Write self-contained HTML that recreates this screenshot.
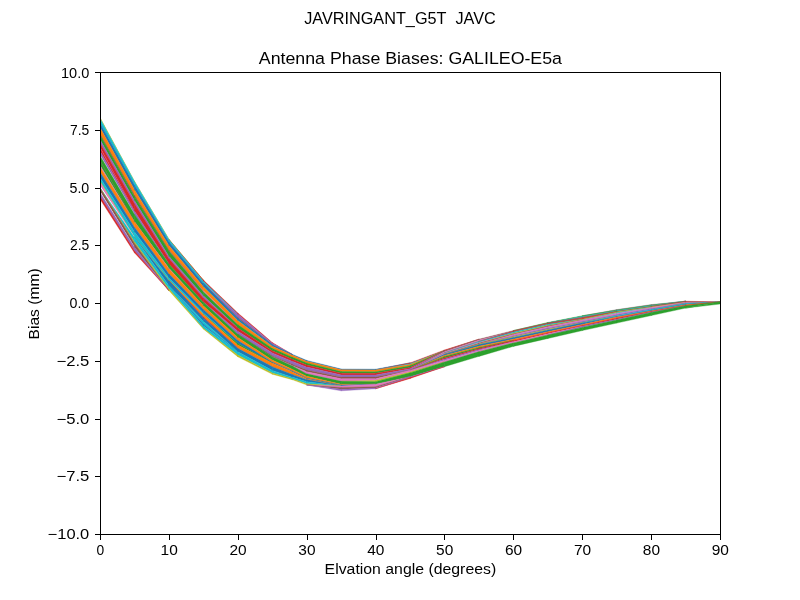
<!DOCTYPE html>
<html><head><meta charset="utf-8"><title>Antenna Phase Biases</title>
<style>html,body{margin:0;padding:0;background:#fff;}svg{display:block;will-change:transform;}text{font-family:"Liberation Sans",sans-serif;fill:#000;}</style></head><body>
<svg width="800" height="600" viewBox="0 0 800 600">
<rect x="0" y="0" width="800" height="600" fill="#ffffff"/>
<clipPath id="ax"><rect x="100" y="72" width="620" height="462"/></clipPath>
<g id="band" clip-path="url(#ax)">
<polygon points="100.00,117.50 134.74,181.81 134.74,182.05 100.00,118.40" fill="#bcbd22" stroke="#bcbd22" stroke-width="0.35"/>
<polygon points="100.00,118.40 134.74,182.05 134.74,185.54 100.00,122.90" fill="#17becf" stroke="#17becf" stroke-width="0.35"/>
<polygon points="100.00,122.90 134.74,185.54 134.74,190.29 100.00,127.60" fill="#1f77b4" stroke="#1f77b4" stroke-width="0.35"/>
<polygon points="100.00,127.60 134.74,190.29 134.74,195.53 100.00,133.90" fill="#ff7f0e" stroke="#ff7f0e" stroke-width="0.35"/>
<polygon points="100.00,133.90 134.74,195.53 134.74,197.03 100.00,135.10" fill="#8c564b" stroke="#8c564b" stroke-width="0.35"/>
<polygon points="100.00,135.10 134.74,197.03 134.74,201.03 100.00,139.60" fill="#2ca02c" stroke="#2ca02c" stroke-width="0.35"/>
<polygon points="100.00,139.60 134.74,201.03 134.74,204.03 100.00,142.90" fill="#9467bd" stroke="#9467bd" stroke-width="0.35"/>
<polygon points="100.00,142.90 134.74,204.03 134.74,211.55 100.00,147.50" fill="#d62728" stroke="#d62728" stroke-width="0.35"/>
<polygon points="100.00,147.50 134.74,211.55 134.74,211.55 100.00,147.90" fill="#e377c2" stroke="#e377c2" stroke-width="0.35"/>
<polygon points="100.00,147.90 134.74,211.55 134.74,211.52 100.00,151.00" fill="#d62728" stroke="#d62728" stroke-width="0.35"/>
<polygon points="100.00,151.00 134.74,211.52 134.74,214.77 100.00,155.10" fill="#9467bd" stroke="#9467bd" stroke-width="0.35"/>
<polygon points="100.00,155.10 134.74,214.77 134.74,214.76 100.00,155.50" fill="#ffffff" stroke="#ffffff" stroke-width="0.35"/>
<polygon points="100.00,155.50 134.74,214.76 134.74,222.28 100.00,160.50" fill="#2ca02c" stroke="#2ca02c" stroke-width="0.35"/>
<polygon points="100.00,160.50 134.74,222.28 134.74,222.28 100.00,160.90" fill="#8c564b" stroke="#8c564b" stroke-width="0.35"/>
<polygon points="100.00,160.90 134.74,222.28 134.74,222.24 100.00,165.30" fill="#2ca02c" stroke="#2ca02c" stroke-width="0.35"/>
<polygon points="100.00,165.30 134.74,222.24 134.74,222.23 100.00,167.10" fill="#e377c2" stroke="#e377c2" stroke-width="0.35"/>
<polygon points="100.00,167.10 134.74,222.23 134.74,227.73 100.00,171.90" fill="#ff7f0e" stroke="#ff7f0e" stroke-width="0.35"/>
<polygon points="100.00,171.90 134.74,227.73 134.74,232.17 100.00,177.40" fill="#1f77b4" stroke="#1f77b4" stroke-width="0.35"/>
<polygon points="100.00,177.40 134.74,232.17 134.74,237.59 100.00,180.90" fill="#17becf" stroke="#17becf" stroke-width="0.35"/>
<polygon points="100.00,180.90 134.74,237.59 134.74,237.78 100.00,182.00" fill="#bcbd22" stroke="#bcbd22" stroke-width="0.35"/>
<polygon points="100.00,182.00 134.74,237.78 134.74,237.75 100.00,185.80" fill="#e377c2" stroke="#e377c2" stroke-width="0.35"/>
<polygon points="100.00,185.80 134.74,237.75 134.74,237.73 100.00,187.80" fill="#ffffff" stroke="#ffffff" stroke-width="0.35"/>
<polygon points="100.00,187.80 134.74,237.73 134.74,242.27 100.00,187.80" fill="#17becf" stroke="#17becf" stroke-width="0.35"/>
<polygon points="100.00,187.80 134.74,242.27 134.74,243.78 100.00,187.80" fill="#bcbd22" stroke="#bcbd22" stroke-width="0.35"/>
<polygon points="100.00,187.80 134.74,243.78 134.74,247.68 100.00,191.60" fill="#8c564b" stroke="#8c564b" stroke-width="0.35"/>
<polygon points="100.00,191.60 134.74,247.68 134.74,247.68 100.00,192.40" fill="#ffffff" stroke="#ffffff" stroke-width="0.35"/>
<polygon points="100.00,192.40 134.74,247.68 134.74,251.28 100.00,196.10" fill="#9467bd" stroke="#9467bd" stroke-width="0.35"/>
<polygon points="100.00,196.10 134.74,251.28 134.74,253.17 100.00,199.10" fill="#d62728" stroke="#d62728" stroke-width="0.35"/>
<polygon points="134.44,181.25 169.19,239.50 169.19,240.01 134.44,181.50" fill="#bcbd22" stroke="#bcbd22" stroke-width="0.35"/>
<polygon points="134.44,181.50 169.19,240.01 169.19,242.19 134.44,185.00" fill="#17becf" stroke="#17becf" stroke-width="0.35"/>
<polygon points="134.44,185.00 169.19,242.19 169.19,245.99 134.44,189.75" fill="#1f77b4" stroke="#1f77b4" stroke-width="0.35"/>
<polygon points="134.44,189.75 169.19,245.99 169.19,250.48 134.44,195.00" fill="#ff7f0e" stroke="#ff7f0e" stroke-width="0.35"/>
<polygon points="134.44,195.00 169.19,250.48 169.19,251.37 134.44,196.50" fill="#8c564b" stroke="#8c564b" stroke-width="0.35"/>
<polygon points="134.44,196.50 169.19,251.37 169.19,256.79 134.44,200.50" fill="#2ca02c" stroke="#2ca02c" stroke-width="0.35"/>
<polygon points="134.44,200.50 169.19,256.79 169.19,258.93 134.44,203.50" fill="#9467bd" stroke="#9467bd" stroke-width="0.35"/>
<polygon points="134.44,203.50 169.19,258.93 169.19,264.36 134.44,211.00" fill="#d62728" stroke="#d62728" stroke-width="0.35"/>
<polygon points="134.44,211.00 169.19,264.36 169.19,264.33 134.44,214.25" fill="#9467bd" stroke="#9467bd" stroke-width="0.35"/>
<polygon points="134.44,214.25 169.19,264.33 169.19,268.60 134.44,221.75" fill="#2ca02c" stroke="#2ca02c" stroke-width="0.35"/>
<polygon points="134.44,221.75 169.19,268.60 169.19,269.36 134.44,221.75" fill="#e377c2" stroke="#e377c2" stroke-width="0.35"/>
<polygon points="134.44,221.75 169.19,269.36 169.19,274.21 134.44,227.25" fill="#ff7f0e" stroke="#ff7f0e" stroke-width="0.35"/>
<polygon points="134.44,227.25 169.19,274.21 169.19,278.20 134.44,231.70" fill="#1f77b4" stroke="#1f77b4" stroke-width="0.35"/>
<polygon points="134.44,231.70 169.19,278.20 169.19,280.37 134.44,237.10" fill="#17becf" stroke="#17becf" stroke-width="0.35"/>
<polygon points="134.44,237.10 169.19,280.37 169.19,280.98 134.44,237.30" fill="#bcbd22" stroke="#bcbd22" stroke-width="0.35"/>
<polygon points="134.44,237.30 169.19,280.98 169.19,286.02 134.44,237.30" fill="#1f77b4" stroke="#1f77b4" stroke-width="0.35"/>
<polygon points="134.44,237.30 169.19,286.02 169.19,289.21 134.44,241.80" fill="#17becf" stroke="#17becf" stroke-width="0.35"/>
<polygon points="134.44,241.80 169.19,289.21 169.19,290.91 134.44,243.30" fill="#bcbd22" stroke="#bcbd22" stroke-width="0.35"/>
<polygon points="134.44,243.30 169.19,290.91 169.19,290.88 134.44,247.20" fill="#8c564b" stroke="#8c564b" stroke-width="0.35"/>
<polygon points="134.44,247.20 169.19,290.88 169.19,290.85 134.44,250.80" fill="#9467bd" stroke="#9467bd" stroke-width="0.35"/>
<polygon points="134.44,250.80 169.19,290.85 169.19,290.83 134.44,252.70" fill="#d62728" stroke="#d62728" stroke-width="0.35"/>
<polygon points="168.89,239.00 203.63,280.36 203.63,280.35 168.89,239.50" fill="#bcbd22" stroke="#bcbd22" stroke-width="0.35"/>
<polygon points="168.89,239.50 203.63,280.35 203.63,281.61 168.89,239.50" fill="#d62728" stroke="#d62728" stroke-width="0.35"/>
<polygon points="168.89,239.50 203.63,281.61 203.63,283.66 168.89,241.70" fill="#17becf" stroke="#17becf" stroke-width="0.35"/>
<polygon points="168.89,241.70 203.63,283.66 203.63,287.06 168.89,245.50" fill="#1f77b4" stroke="#1f77b4" stroke-width="0.35"/>
<polygon points="168.89,245.50 203.63,287.06 203.63,291.16 168.89,250.00" fill="#ff7f0e" stroke="#ff7f0e" stroke-width="0.35"/>
<polygon points="168.89,250.00 203.63,291.16 203.63,291.15 168.89,250.90" fill="#8c564b" stroke="#8c564b" stroke-width="0.35"/>
<polygon points="168.89,250.90 203.63,291.15 203.63,292.06 168.89,250.90" fill="#e377c2" stroke="#e377c2" stroke-width="0.35"/>
<polygon points="168.89,250.90 203.63,292.06 203.63,296.14 168.89,256.30" fill="#2ca02c" stroke="#2ca02c" stroke-width="0.35"/>
<polygon points="168.89,256.30 203.63,296.14 203.63,298.24 168.89,258.45" fill="#9467bd" stroke="#9467bd" stroke-width="0.35"/>
<polygon points="168.89,258.45 203.63,298.24 203.63,302.43 168.89,263.90" fill="#d62728" stroke="#d62728" stroke-width="0.35"/>
<polygon points="168.89,263.90 203.63,302.43 203.63,306.13 168.89,268.20" fill="#2ca02c" stroke="#2ca02c" stroke-width="0.35"/>
<polygon points="168.89,268.20 203.63,306.13 203.63,306.12 168.89,268.95" fill="#e377c2" stroke="#e377c2" stroke-width="0.35"/>
<polygon points="168.89,268.95 203.63,306.12 203.63,309.71 168.89,273.80" fill="#ff7f0e" stroke="#ff7f0e" stroke-width="0.35"/>
<polygon points="168.89,273.80 203.63,309.71 203.63,313.21 168.89,277.80" fill="#1f77b4" stroke="#1f77b4" stroke-width="0.35"/>
<polygon points="168.89,277.80 203.63,313.21 203.63,314.50 168.89,280.00" fill="#17becf" stroke="#17becf" stroke-width="0.35"/>
<polygon points="168.89,280.00 203.63,314.50 203.63,314.49 168.89,280.60" fill="#bcbd22" stroke="#bcbd22" stroke-width="0.35"/>
<polygon points="168.89,280.60 203.63,314.49 203.63,317.32 168.89,280.60" fill="#ff7f0e" stroke="#ff7f0e" stroke-width="0.35"/>
<polygon points="168.89,280.60 203.63,317.32 203.63,318.22 168.89,280.60" fill="#d62728" stroke="#d62728" stroke-width="0.35"/>
<polygon points="168.89,280.60 203.63,318.22 203.63,321.56 168.89,285.60" fill="#1f77b4" stroke="#1f77b4" stroke-width="0.35"/>
<polygon points="168.89,285.60 203.63,321.56 203.63,324.54 168.89,285.60" fill="#17becf" stroke="#17becf" stroke-width="0.35"/>
<polygon points="168.89,285.60 203.63,324.54 203.63,326.15 168.89,285.60" fill="#1f77b4" stroke="#1f77b4" stroke-width="0.35"/>
<polygon points="168.89,285.60 203.63,326.15 203.63,328.64 168.89,288.80" fill="#17becf" stroke="#17becf" stroke-width="0.35"/>
<polygon points="168.89,288.80 203.63,328.64 203.63,329.34 168.89,290.50" fill="#bcbd22" stroke="#bcbd22" stroke-width="0.35"/>
<polygon points="203.33,280.00 238.08,313.19 238.08,314.49 203.33,281.25" fill="#d62728" stroke="#d62728" stroke-width="0.35"/>
<polygon points="203.33,281.25 238.08,314.49 238.08,314.47 203.33,283.30" fill="#17becf" stroke="#17becf" stroke-width="0.35"/>
<polygon points="203.33,283.30 238.08,314.47 238.08,317.80 203.33,283.30" fill="#9467bd" stroke="#9467bd" stroke-width="0.35"/>
<polygon points="203.33,283.30 238.08,317.80 238.08,318.60 203.33,283.30" fill="#8c564b" stroke="#8c564b" stroke-width="0.35"/>
<polygon points="203.33,283.30 238.08,318.60 238.08,320.69 203.33,286.70" fill="#1f77b4" stroke="#1f77b4" stroke-width="0.35"/>
<polygon points="203.33,286.70 238.08,320.69 238.08,321.10 203.33,286.70" fill="#17becf" stroke="#17becf" stroke-width="0.35"/>
<polygon points="203.33,286.70 238.08,321.10 238.08,324.89 203.33,290.80" fill="#ff7f0e" stroke="#ff7f0e" stroke-width="0.35"/>
<polygon points="203.33,290.80 238.08,324.89 238.08,324.89 203.33,291.70" fill="#e377c2" stroke="#e377c2" stroke-width="0.35"/>
<polygon points="203.33,291.70 238.08,324.89 238.08,328.18 203.33,295.80" fill="#2ca02c" stroke="#2ca02c" stroke-width="0.35"/>
<polygon points="203.33,295.80 238.08,328.18 238.08,328.16 203.33,297.90" fill="#9467bd" stroke="#9467bd" stroke-width="0.35"/>
<polygon points="203.33,297.90 238.08,328.16 238.08,331.50 203.33,302.10" fill="#d62728" stroke="#d62728" stroke-width="0.35"/>
<polygon points="203.33,302.10 238.08,331.50 238.08,334.48 203.33,302.10" fill="#9467bd" stroke="#9467bd" stroke-width="0.35"/>
<polygon points="203.33,302.10 238.08,334.48 238.08,337.78 203.33,305.80" fill="#2ca02c" stroke="#2ca02c" stroke-width="0.35"/>
<polygon points="203.33,305.80 238.08,337.78 238.08,340.67 203.33,309.40" fill="#ff7f0e" stroke="#ff7f0e" stroke-width="0.35"/>
<polygon points="203.33,309.40 238.08,340.67 238.08,343.56 203.33,312.90" fill="#1f77b4" stroke="#1f77b4" stroke-width="0.35"/>
<polygon points="203.33,312.90 238.08,343.56 238.08,343.55 203.33,314.20" fill="#17becf" stroke="#17becf" stroke-width="0.35"/>
<polygon points="203.33,314.20 238.08,343.55 238.08,345.27 203.33,314.20" fill="#2ca02c" stroke="#2ca02c" stroke-width="0.35"/>
<polygon points="203.33,314.20 238.08,345.27 238.08,348.57 203.33,317.00" fill="#ff7f0e" stroke="#ff7f0e" stroke-width="0.35"/>
<polygon points="203.33,317.00 238.08,348.57 238.08,348.56 203.33,317.90" fill="#d62728" stroke="#d62728" stroke-width="0.35"/>
<polygon points="203.33,317.90 238.08,348.56 238.08,351.97 203.33,321.25" fill="#1f77b4" stroke="#1f77b4" stroke-width="0.35"/>
<polygon points="203.33,321.25 238.08,351.97 238.08,351.94 203.33,324.20" fill="#17becf" stroke="#17becf" stroke-width="0.35"/>
<polygon points="203.33,324.20 238.08,351.94 238.08,351.93 203.33,325.80" fill="#1f77b4" stroke="#1f77b4" stroke-width="0.35"/>
<polygon points="203.33,325.80 238.08,351.93 238.08,355.23 203.33,328.30" fill="#17becf" stroke="#17becf" stroke-width="0.35"/>
<polygon points="203.33,328.30 238.08,355.23 238.08,356.99 203.33,329.00" fill="#bcbd22" stroke="#bcbd22" stroke-width="0.35"/>
<polygon points="237.78,312.90 272.52,342.76 272.52,343.55 237.78,314.20" fill="#d62728" stroke="#d62728" stroke-width="0.35"/>
<polygon points="237.78,314.20 272.52,343.55 272.52,344.84 237.78,317.50" fill="#9467bd" stroke="#9467bd" stroke-width="0.35"/>
<polygon points="237.78,317.50 272.52,344.84 272.52,344.83 237.78,318.30" fill="#8c564b" stroke="#8c564b" stroke-width="0.35"/>
<polygon points="237.78,318.30 272.52,344.83 272.52,346.48 237.78,320.40" fill="#1f77b4" stroke="#1f77b4" stroke-width="0.35"/>
<polygon points="237.78,320.40 272.52,346.48 272.52,346.47 237.78,320.80" fill="#17becf" stroke="#17becf" stroke-width="0.35"/>
<polygon points="237.78,320.80 272.52,346.47 272.52,348.51 237.78,324.60" fill="#ff7f0e" stroke="#ff7f0e" stroke-width="0.35"/>
<polygon points="237.78,324.60 272.52,348.51 272.52,351.00 237.78,327.90" fill="#2ca02c" stroke="#2ca02c" stroke-width="0.35"/>
<polygon points="237.78,327.90 272.52,351.00 272.52,353.09 237.78,331.25" fill="#d62728" stroke="#d62728" stroke-width="0.35"/>
<polygon points="237.78,331.25 272.52,353.09 272.52,355.99 237.78,334.20" fill="#9467bd" stroke="#9467bd" stroke-width="0.35"/>
<polygon points="237.78,334.20 272.52,355.99 272.52,356.90 237.78,334.20" fill="#8c564b" stroke="#8c564b" stroke-width="0.35"/>
<polygon points="237.78,334.20 272.52,356.90 272.52,360.20 237.78,337.50" fill="#2ca02c" stroke="#2ca02c" stroke-width="0.35"/>
<polygon points="237.78,337.50 272.52,360.20 272.52,362.19 237.78,340.40" fill="#ff7f0e" stroke="#ff7f0e" stroke-width="0.35"/>
<polygon points="237.78,340.40 272.52,362.19 272.52,363.17 237.78,343.30" fill="#1f77b4" stroke="#1f77b4" stroke-width="0.35"/>
<polygon points="237.78,343.30 272.52,363.17 272.52,363.16 237.78,345.00" fill="#2ca02c" stroke="#2ca02c" stroke-width="0.35"/>
<polygon points="237.78,345.00 272.52,363.16 272.52,366.86 237.78,348.30" fill="#ff7f0e" stroke="#ff7f0e" stroke-width="0.35"/>
<polygon points="237.78,348.30 272.52,366.86 272.52,370.56 237.78,351.70" fill="#1f77b4" stroke="#1f77b4" stroke-width="0.35"/>
<polygon points="237.78,351.70 272.52,370.56 272.52,373.06 237.78,355.00" fill="#17becf" stroke="#17becf" stroke-width="0.35"/>
<polygon points="237.78,355.00 272.52,373.06 272.52,374.35 237.78,356.75" fill="#bcbd22" stroke="#bcbd22" stroke-width="0.35"/>
<polygon points="272.22,342.50 292.29,354.38 292.29,354.37 272.22,343.30" fill="#d62728" stroke="#d62728" stroke-width="0.35"/>
<polygon points="272.22,343.30 292.29,354.37 292.29,354.35 272.22,344.60" fill="#9467bd" stroke="#9467bd" stroke-width="0.35"/>
<polygon points="272.22,344.60 292.29,354.35 292.29,355.13 272.22,346.25" fill="#1f77b4" stroke="#1f77b4" stroke-width="0.35"/>
<polygon points="272.22,346.25 292.29,355.13 292.29,357.23 272.22,348.30" fill="#ff7f0e" stroke="#ff7f0e" stroke-width="0.35"/>
<polygon points="272.22,348.30 292.29,357.23 292.29,359.33 272.22,350.80" fill="#2ca02c" stroke="#2ca02c" stroke-width="0.35"/>
<polygon points="272.22,350.80 292.29,359.33 292.29,361.38 272.22,352.90" fill="#d62728" stroke="#d62728" stroke-width="0.35"/>
<polygon points="272.22,352.90 292.29,361.38 292.29,364.33 272.22,355.80" fill="#9467bd" stroke="#9467bd" stroke-width="0.35"/>
<polygon points="272.22,355.80 292.29,364.33 292.29,365.53 272.22,356.70" fill="#8c564b" stroke="#8c564b" stroke-width="0.35"/>
<polygon points="272.22,356.70 292.29,365.53 292.29,365.94 272.22,356.70" fill="#e377c2" stroke="#e377c2" stroke-width="0.35"/>
<polygon points="272.22,356.70 292.29,365.94 292.29,369.34 272.22,360.00" fill="#2ca02c" stroke="#2ca02c" stroke-width="0.35"/>
<polygon points="272.22,360.00 292.29,369.34 292.29,370.93 272.22,362.00" fill="#ff7f0e" stroke="#ff7f0e" stroke-width="0.35"/>
<polygon points="272.22,362.00 292.29,370.93 292.29,371.83 272.22,363.00" fill="#1f77b4" stroke="#1f77b4" stroke-width="0.35"/>
<polygon points="272.22,363.00 292.29,371.83 292.29,374.52 272.22,366.70" fill="#ff7f0e" stroke="#ff7f0e" stroke-width="0.35"/>
<polygon points="272.22,366.70 292.29,374.52 292.29,377.20 272.22,370.40" fill="#1f77b4" stroke="#1f77b4" stroke-width="0.35"/>
<polygon points="272.22,370.40 292.29,377.20 292.29,378.84 272.22,372.90" fill="#17becf" stroke="#17becf" stroke-width="0.35"/>
<polygon points="272.22,372.90 292.29,378.84 292.29,379.68 272.22,374.20" fill="#bcbd22" stroke="#bcbd22" stroke-width="0.35"/>
<polygon points="291.99,354.20 306.97,360.53 306.97,361.38 291.99,355.00" fill="#1f77b4" stroke="#1f77b4" stroke-width="0.35"/>
<polygon points="291.99,355.00 306.97,361.38 306.97,363.02 291.99,357.10" fill="#ff7f0e" stroke="#ff7f0e" stroke-width="0.35"/>
<polygon points="291.99,357.10 306.97,363.02 306.97,365.12 291.99,359.20" fill="#2ca02c" stroke="#2ca02c" stroke-width="0.35"/>
<polygon points="291.99,359.20 306.97,365.12 306.97,367.22 291.99,361.25" fill="#d62728" stroke="#d62728" stroke-width="0.35"/>
<polygon points="291.99,361.25 306.97,367.22 306.97,370.12 291.99,364.20" fill="#9467bd" stroke="#9467bd" stroke-width="0.35"/>
<polygon points="291.99,364.20 306.97,370.12 306.97,371.83 291.99,365.40" fill="#8c564b" stroke="#8c564b" stroke-width="0.35"/>
<polygon points="291.99,365.40 306.97,371.83 306.97,373.91 291.99,365.80" fill="#e377c2" stroke="#e377c2" stroke-width="0.35"/>
<polygon points="291.99,365.80 306.97,373.91 306.97,376.39 291.99,369.20" fill="#2ca02c" stroke="#2ca02c" stroke-width="0.35"/>
<polygon points="291.99,369.20 306.97,376.39 306.97,378.15 291.99,370.80" fill="#ff7f0e" stroke="#ff7f0e" stroke-width="0.35"/>
<polygon points="291.99,370.80 306.97,378.15 306.97,378.95 291.99,371.70" fill="#1f77b4" stroke="#1f77b4" stroke-width="0.35"/>
<polygon points="291.99,371.70 306.97,378.95 306.97,379.71 291.99,374.40" fill="#ff7f0e" stroke="#ff7f0e" stroke-width="0.35"/>
<polygon points="291.99,374.40 306.97,379.71 306.97,381.79 291.99,377.10" fill="#1f77b4" stroke="#1f77b4" stroke-width="0.35"/>
<polygon points="291.99,377.10 306.97,381.79 306.97,383.85 291.99,378.75" fill="#17becf" stroke="#17becf" stroke-width="0.35"/>
<polygon points="291.99,378.75 306.97,383.85 306.97,385.11 291.99,379.60" fill="#bcbd22" stroke="#bcbd22" stroke-width="0.35"/>
<polygon points="306.67,360.40 341.41,369.07 341.41,369.87 306.67,361.25" fill="#1f77b4" stroke="#1f77b4" stroke-width="0.35"/>
<polygon points="306.67,361.25 341.41,369.87 341.41,371.57 306.67,362.90" fill="#ff7f0e" stroke="#ff7f0e" stroke-width="0.35"/>
<polygon points="306.67,362.90 341.41,371.57 341.41,373.37 306.67,365.00" fill="#2ca02c" stroke="#2ca02c" stroke-width="0.35"/>
<polygon points="306.67,365.00 341.41,373.37 341.41,375.07 306.67,367.10" fill="#d62728" stroke="#d62728" stroke-width="0.35"/>
<polygon points="306.67,367.10 341.41,375.07 341.41,377.16 306.67,370.00" fill="#9467bd" stroke="#9467bd" stroke-width="0.35"/>
<polygon points="306.67,370.00 341.41,377.16 341.41,378.81 306.67,371.70" fill="#8c564b" stroke="#8c564b" stroke-width="0.35"/>
<polygon points="306.67,371.70 341.41,378.81 341.41,381.32 306.67,373.75" fill="#e377c2" stroke="#e377c2" stroke-width="0.35"/>
<polygon points="306.67,373.75 341.41,381.32 341.41,384.27 306.67,376.25" fill="#2ca02c" stroke="#2ca02c" stroke-width="0.35"/>
<polygon points="306.67,376.25 341.41,384.27 341.41,385.06 306.67,378.00" fill="#ff7f0e" stroke="#ff7f0e" stroke-width="0.35"/>
<polygon points="306.67,378.00 341.41,385.06 341.41,386.06 306.67,378.80" fill="#1f77b4" stroke="#1f77b4" stroke-width="0.35"/>
<polygon points="306.67,378.80 341.41,386.06 341.41,386.06 306.67,379.60" fill="#ff7f0e" stroke="#ff7f0e" stroke-width="0.35"/>
<polygon points="306.67,379.60 341.41,386.06 341.41,386.04 306.67,381.70" fill="#1f77b4" stroke="#1f77b4" stroke-width="0.35"/>
<polygon points="306.67,381.70 341.41,386.04 341.41,386.02 306.67,383.75" fill="#17becf" stroke="#17becf" stroke-width="0.35"/>
<polygon points="306.67,383.75 341.41,386.02 341.41,386.01 306.67,385.00" fill="#bcbd22" stroke="#bcbd22" stroke-width="0.35"/>
<polygon points="306.67,385.00 341.41,386.01 341.41,387.52 306.67,385.00" fill="#e377c2" stroke="#e377c2" stroke-width="0.35"/>
<polygon points="306.67,385.00 341.41,387.52 341.41,389.24 306.67,385.00" fill="#8c564b" stroke="#8c564b" stroke-width="0.35"/>
<polygon points="306.67,385.00 341.41,389.24 341.41,390.85 306.67,385.00" fill="#9467bd" stroke="#9467bd" stroke-width="0.35"/>
<polygon points="341.11,369.00 375.86,369.20 375.86,370.00 341.11,369.80" fill="#1f77b4" stroke="#1f77b4" stroke-width="0.35"/>
<polygon points="341.11,369.80 375.86,370.00 375.86,371.80 341.11,371.50" fill="#ff7f0e" stroke="#ff7f0e" stroke-width="0.35"/>
<polygon points="341.11,371.50 375.86,371.80 375.86,373.30 341.11,373.30" fill="#2ca02c" stroke="#2ca02c" stroke-width="0.35"/>
<polygon points="341.11,373.30 375.86,373.30 375.86,375.00 341.11,375.00" fill="#d62728" stroke="#d62728" stroke-width="0.35"/>
<polygon points="341.11,375.00 375.86,375.00 375.86,377.10 341.11,377.10" fill="#9467bd" stroke="#9467bd" stroke-width="0.35"/>
<polygon points="341.11,377.10 375.86,377.10 375.86,378.75 341.11,378.75" fill="#8c564b" stroke="#8c564b" stroke-width="0.35"/>
<polygon points="341.11,378.75 375.86,378.75 375.86,380.39 341.11,381.25" fill="#e377c2" stroke="#e377c2" stroke-width="0.35"/>
<polygon points="341.11,381.25 375.86,380.39 375.86,381.70 341.11,381.25" fill="#bcbd22" stroke="#bcbd22" stroke-width="0.35"/>
<polygon points="341.11,381.25 375.86,381.70 375.86,384.20 341.11,384.20" fill="#2ca02c" stroke="#2ca02c" stroke-width="0.35"/>
<polygon points="341.11,384.20 375.86,384.20 375.86,384.19 341.11,385.00" fill="#ff7f0e" stroke="#ff7f0e" stroke-width="0.35"/>
<polygon points="341.11,385.00 375.86,384.19 375.86,384.18 341.11,386.00" fill="#1f77b4" stroke="#1f77b4" stroke-width="0.35"/>
<polygon points="341.11,386.00 375.86,384.18 375.86,386.69 341.11,387.50" fill="#e377c2" stroke="#e377c2" stroke-width="0.35"/>
<polygon points="341.11,387.50 375.86,386.69 375.86,387.89 341.11,389.20" fill="#8c564b" stroke="#8c564b" stroke-width="0.35"/>
<polygon points="341.11,389.20 375.86,387.89 375.86,388.73 341.11,390.80" fill="#9467bd" stroke="#9467bd" stroke-width="0.35"/>
<polygon points="375.56,369.20 410.30,362.85 410.30,362.84 375.56,370.00" fill="#1f77b4" stroke="#1f77b4" stroke-width="0.35"/>
<polygon points="375.56,370.00 410.30,362.84 410.30,363.65 375.56,370.00" fill="#d62728" stroke="#d62728" stroke-width="0.35"/>
<polygon points="375.56,370.00 410.30,363.65 410.30,364.55 375.56,370.00" fill="#17becf" stroke="#17becf" stroke-width="0.35"/>
<polygon points="375.56,370.00 410.30,364.55 410.30,365.75 375.56,371.80" fill="#ff7f0e" stroke="#ff7f0e" stroke-width="0.35"/>
<polygon points="375.56,371.80 410.30,365.75 410.30,367.45 375.56,373.30" fill="#2ca02c" stroke="#2ca02c" stroke-width="0.35"/>
<polygon points="375.56,373.30 410.30,367.45 410.30,368.70 375.56,375.00" fill="#d62728" stroke="#d62728" stroke-width="0.35"/>
<polygon points="375.56,375.00 410.30,368.70 410.30,370.34 375.56,377.10" fill="#9467bd" stroke="#9467bd" stroke-width="0.35"/>
<polygon points="375.56,377.10 410.30,370.34 410.30,370.33 375.56,378.75" fill="#8c564b" stroke="#8c564b" stroke-width="0.35"/>
<polygon points="375.56,378.75 410.30,370.33 410.30,372.03 375.56,380.40" fill="#e377c2" stroke="#e377c2" stroke-width="0.35"/>
<polygon points="375.56,380.40 410.30,372.03 410.30,372.82 375.56,381.70" fill="#bcbd22" stroke="#bcbd22" stroke-width="0.35"/>
<polygon points="375.56,381.70 410.30,372.82 410.30,376.63 375.56,384.20" fill="#2ca02c" stroke="#2ca02c" stroke-width="0.35"/>
<polygon points="375.56,384.20 410.30,376.63 410.30,376.61 375.56,386.70" fill="#e377c2" stroke="#e377c2" stroke-width="0.35"/>
<polygon points="375.56,386.70 410.30,376.61 410.30,376.60 375.56,387.90" fill="#8c564b" stroke="#8c564b" stroke-width="0.35"/>
<polygon points="375.56,387.90 410.30,376.60 410.30,377.50 375.56,388.75" fill="#9467bd" stroke="#9467bd" stroke-width="0.35"/>
<polygon points="375.56,388.75 410.30,377.50 410.30,378.41 375.56,388.75" fill="#d62728" stroke="#d62728" stroke-width="0.35"/>
<polygon points="410.00,362.90 444.74,349.89 444.74,350.69 410.00,363.70" fill="#d62728" stroke="#d62728" stroke-width="0.35"/>
<polygon points="410.00,363.70 444.74,350.69 444.74,350.68 410.00,364.60" fill="#17becf" stroke="#17becf" stroke-width="0.35"/>
<polygon points="410.00,364.60 444.74,350.68 444.74,350.67 410.00,365.80" fill="#ff7f0e" stroke="#ff7f0e" stroke-width="0.35"/>
<polygon points="410.00,365.80 444.74,350.67 444.74,350.65 410.00,367.50" fill="#2ca02c" stroke="#2ca02c" stroke-width="0.35"/>
<polygon points="410.00,367.50 444.74,350.65 444.74,350.64 410.00,368.75" fill="#d62728" stroke="#d62728" stroke-width="0.35"/>
<polygon points="410.00,368.75 444.74,350.64 444.74,350.63 410.00,370.40" fill="#9467bd" stroke="#9467bd" stroke-width="0.35"/>
<polygon points="410.00,370.40 444.74,350.63 444.74,351.54 410.00,370.40" fill="#8c564b" stroke="#8c564b" stroke-width="0.35"/>
<polygon points="410.00,370.40 444.74,351.54 444.74,352.44 410.00,370.40" fill="#e377c2" stroke="#e377c2" stroke-width="0.35"/>
<polygon points="410.00,370.40 444.74,352.44 444.74,353.25 410.00,370.40" fill="#7f7f7f" stroke="#7f7f7f" stroke-width="0.35"/>
<polygon points="410.00,370.40 444.74,353.25 444.74,354.06 410.00,370.40" fill="#e377c2" stroke="#e377c2" stroke-width="0.35"/>
<polygon points="410.00,370.40 444.74,354.06 444.74,355.27 410.00,370.40" fill="#1f77b4" stroke="#1f77b4" stroke-width="0.35"/>
<polygon points="410.00,370.40 444.74,355.27 444.74,356.38 410.00,370.40" fill="#ff7f0e" stroke="#ff7f0e" stroke-width="0.35"/>
<polygon points="410.00,370.40 444.74,356.38 444.74,357.79 410.00,370.40" fill="#2ca02c" stroke="#2ca02c" stroke-width="0.35"/>
<polygon points="410.00,370.40 444.74,357.79 444.74,359.10 410.00,370.40" fill="#d62728" stroke="#d62728" stroke-width="0.35"/>
<polygon points="410.00,370.40 444.74,359.10 444.74,360.31 410.00,370.40" fill="#9467bd" stroke="#9467bd" stroke-width="0.35"/>
<polygon points="410.00,370.40 444.74,360.31 444.74,361.91 410.00,372.10" fill="#e377c2" stroke="#e377c2" stroke-width="0.35"/>
<polygon points="410.00,372.10 444.74,361.91 444.74,361.91 410.00,372.90" fill="#bcbd22" stroke="#bcbd22" stroke-width="0.35"/>
<polygon points="410.00,372.90 444.74,361.91 444.74,366.61 410.00,376.70" fill="#2ca02c" stroke="#2ca02c" stroke-width="0.35"/>
<polygon points="410.00,376.70 444.74,366.61 444.74,366.61 410.00,377.60" fill="#9467bd" stroke="#9467bd" stroke-width="0.35"/>
<polygon points="410.00,377.60 444.74,366.61 444.74,366.60 410.00,378.50" fill="#d62728" stroke="#d62728" stroke-width="0.35"/>
<polygon points="444.44,350.00 479.19,339.11 479.19,339.10 444.44,350.80" fill="#d62728" stroke="#d62728" stroke-width="0.35"/>
<polygon points="444.44,350.80 479.19,339.10 479.19,339.90 444.44,351.70" fill="#8c564b" stroke="#8c564b" stroke-width="0.35"/>
<polygon points="444.44,351.70 479.19,339.90 479.19,340.90 444.44,352.60" fill="#e377c2" stroke="#e377c2" stroke-width="0.35"/>
<polygon points="444.44,352.60 479.19,340.90 479.19,341.70 444.44,353.40" fill="#7f7f7f" stroke="#7f7f7f" stroke-width="0.35"/>
<polygon points="444.44,353.40 479.19,341.70 479.19,342.51 444.44,353.40" fill="#17becf" stroke="#17becf" stroke-width="0.35"/>
<polygon points="444.44,353.40 479.19,342.51 479.19,343.21 444.44,354.20" fill="#e377c2" stroke="#e377c2" stroke-width="0.35"/>
<polygon points="444.44,354.20 479.19,343.21 479.19,343.91 444.44,354.20" fill="#8c564b" stroke="#8c564b" stroke-width="0.35"/>
<polygon points="444.44,354.20 479.19,343.91 479.19,344.52 444.44,354.20" fill="#bcbd22" stroke="#bcbd22" stroke-width="0.35"/>
<polygon points="444.44,354.20 479.19,344.52 479.19,346.17 444.44,355.40" fill="#1f77b4" stroke="#1f77b4" stroke-width="0.35"/>
<polygon points="444.44,355.40 479.19,346.17 479.19,347.42 444.44,356.50" fill="#ff7f0e" stroke="#ff7f0e" stroke-width="0.35"/>
<polygon points="444.44,356.50 479.19,347.42 479.19,348.42 444.44,357.90" fill="#2ca02c" stroke="#2ca02c" stroke-width="0.35"/>
<polygon points="444.44,357.90 479.19,348.42 479.19,349.52 444.44,359.20" fill="#d62728" stroke="#d62728" stroke-width="0.35"/>
<polygon points="444.44,359.20 479.19,349.52 479.19,350.51 444.44,360.40" fill="#9467bd" stroke="#9467bd" stroke-width="0.35"/>
<polygon points="444.44,360.40 479.19,350.51 479.19,351.61 444.44,362.00" fill="#e377c2" stroke="#e377c2" stroke-width="0.35"/>
<polygon points="444.44,362.00 479.19,351.61 479.19,356.31 444.44,366.70" fill="#2ca02c" stroke="#2ca02c" stroke-width="0.35"/>
<polygon points="478.89,339.20 513.63,330.53 513.63,331.22 478.89,340.00" fill="#8c564b" stroke="#8c564b" stroke-width="0.35"/>
<polygon points="478.89,340.00 513.63,331.22 513.63,331.22 478.89,341.00" fill="#e377c2" stroke="#e377c2" stroke-width="0.35"/>
<polygon points="478.89,341.00 513.63,331.22 513.63,331.21 478.89,341.80" fill="#7f7f7f" stroke="#7f7f7f" stroke-width="0.35"/>
<polygon points="478.89,341.80 513.63,331.21 513.63,331.91 478.89,341.80" fill="#d62728" stroke="#d62728" stroke-width="0.35"/>
<polygon points="478.89,341.80 513.63,331.91 513.63,333.22 478.89,342.60" fill="#17becf" stroke="#17becf" stroke-width="0.35"/>
<polygon points="478.89,342.60 513.63,333.22 513.63,333.21 478.89,343.30" fill="#e377c2" stroke="#e377c2" stroke-width="0.35"/>
<polygon points="478.89,343.30 513.63,333.21 513.63,333.92 478.89,343.30" fill="#bcbd22" stroke="#bcbd22" stroke-width="0.35"/>
<polygon points="478.89,343.30 513.63,333.92 513.63,334.52 478.89,344.00" fill="#8c564b" stroke="#8c564b" stroke-width="0.35"/>
<polygon points="478.89,344.00 513.63,334.52 513.63,335.63 478.89,344.00" fill="#e377c2" stroke="#e377c2" stroke-width="0.35"/>
<polygon points="478.89,344.00 513.63,335.63 513.63,336.64 478.89,344.00" fill="#9467bd" stroke="#9467bd" stroke-width="0.35"/>
<polygon points="478.89,344.00 513.63,336.64 513.63,337.44 478.89,344.60" fill="#bcbd22" stroke="#bcbd22" stroke-width="0.35"/>
<polygon points="478.89,344.60 513.63,337.44 513.63,339.14 478.89,346.25" fill="#1f77b4" stroke="#1f77b4" stroke-width="0.35"/>
<polygon points="478.89,346.25 513.63,339.14 513.63,340.34 478.89,347.50" fill="#ff7f0e" stroke="#ff7f0e" stroke-width="0.35"/>
<polygon points="478.89,347.50 513.63,340.34 513.63,340.33 478.89,348.50" fill="#2ca02c" stroke="#2ca02c" stroke-width="0.35"/>
<polygon points="478.89,348.50 513.63,340.33 513.63,341.63 478.89,349.60" fill="#d62728" stroke="#d62728" stroke-width="0.35"/>
<polygon points="478.89,349.60 513.63,341.63 513.63,341.62 478.89,350.60" fill="#9467bd" stroke="#9467bd" stroke-width="0.35"/>
<polygon points="478.89,350.60 513.63,341.62 513.63,342.82 478.89,351.70" fill="#e377c2" stroke="#e377c2" stroke-width="0.35"/>
<polygon points="478.89,351.70 513.63,342.82 513.63,346.31 478.89,356.40" fill="#2ca02c" stroke="#2ca02c" stroke-width="0.35"/>
<polygon points="513.33,330.60 548.08,322.43 548.08,322.93 513.33,330.60" fill="#2ca02c" stroke="#2ca02c" stroke-width="0.35"/>
<polygon points="513.33,330.60 548.08,322.93 548.08,323.53 513.33,331.30" fill="#8c564b" stroke="#8c564b" stroke-width="0.35"/>
<polygon points="513.33,331.30 548.08,323.53 548.08,324.13 513.33,332.00" fill="#d62728" stroke="#d62728" stroke-width="0.35"/>
<polygon points="513.33,332.00 548.08,324.13 548.08,325.33 513.33,333.30" fill="#17becf" stroke="#17becf" stroke-width="0.35"/>
<polygon points="513.33,333.30 548.08,325.33 548.08,325.93 513.33,334.00" fill="#bcbd22" stroke="#bcbd22" stroke-width="0.35"/>
<polygon points="513.33,334.00 548.08,325.93 548.08,326.63 513.33,334.60" fill="#8c564b" stroke="#8c564b" stroke-width="0.35"/>
<polygon points="513.33,334.60 548.08,326.63 548.08,327.83 513.33,335.70" fill="#e377c2" stroke="#e377c2" stroke-width="0.35"/>
<polygon points="513.33,335.70 548.08,327.83 548.08,329.13 513.33,336.70" fill="#9467bd" stroke="#9467bd" stroke-width="0.35"/>
<polygon points="513.33,336.70 548.08,329.13 548.08,329.93 513.33,337.50" fill="#bcbd22" stroke="#bcbd22" stroke-width="0.35"/>
<polygon points="513.33,337.50 548.08,329.93 548.08,331.63 513.33,339.20" fill="#1f77b4" stroke="#1f77b4" stroke-width="0.35"/>
<polygon points="513.33,339.20 548.08,331.63 548.08,332.63 513.33,340.40" fill="#ff7f0e" stroke="#ff7f0e" stroke-width="0.35"/>
<polygon points="513.33,340.40 548.08,332.63 548.08,333.68 513.33,341.70" fill="#d62728" stroke="#d62728" stroke-width="0.35"/>
<polygon points="513.33,341.70 548.08,333.68 548.08,334.93 513.33,342.90" fill="#e377c2" stroke="#e377c2" stroke-width="0.35"/>
<polygon points="513.33,342.90 548.08,334.93 548.08,338.43 513.33,346.40" fill="#2ca02c" stroke="#2ca02c" stroke-width="0.35"/>
<polygon points="547.78,322.50 582.52,315.74 582.52,316.34 547.78,323.00" fill="#2ca02c" stroke="#2ca02c" stroke-width="0.35"/>
<polygon points="547.78,323.00 582.52,316.34 582.52,316.95 547.78,323.00" fill="#17becf" stroke="#17becf" stroke-width="0.35"/>
<polygon points="547.78,323.00 582.52,316.95 582.52,317.45 547.78,323.00" fill="#7f7f7f" stroke="#7f7f7f" stroke-width="0.35"/>
<polygon points="547.78,323.00 582.52,317.45 582.52,318.25 547.78,323.60" fill="#8c564b" stroke="#8c564b" stroke-width="0.35"/>
<polygon points="547.78,323.60 582.52,318.25 582.52,319.16 547.78,324.20" fill="#d62728" stroke="#d62728" stroke-width="0.35"/>
<polygon points="547.78,324.20 582.52,319.16 582.52,319.15 547.78,325.40" fill="#17becf" stroke="#17becf" stroke-width="0.35"/>
<polygon points="547.78,325.40 582.52,319.15 582.52,319.95 547.78,326.00" fill="#bcbd22" stroke="#bcbd22" stroke-width="0.35"/>
<polygon points="547.78,326.00 582.52,319.95 582.52,319.94 547.78,326.70" fill="#8c564b" stroke="#8c564b" stroke-width="0.35"/>
<polygon points="547.78,326.70 582.52,319.94 582.52,321.19 547.78,327.90" fill="#e377c2" stroke="#e377c2" stroke-width="0.35"/>
<polygon points="547.78,327.90 582.52,321.19 582.52,322.44 547.78,329.20" fill="#9467bd" stroke="#9467bd" stroke-width="0.35"/>
<polygon points="547.78,329.20 582.52,322.44 582.52,322.84 547.78,330.00" fill="#bcbd22" stroke="#bcbd22" stroke-width="0.35"/>
<polygon points="547.78,330.00 582.52,322.84 582.52,324.54 547.78,331.70" fill="#1f77b4" stroke="#1f77b4" stroke-width="0.35"/>
<polygon points="547.78,331.70 582.52,324.54 582.52,325.34 547.78,332.70" fill="#ff7f0e" stroke="#ff7f0e" stroke-width="0.35"/>
<polygon points="547.78,332.70 582.52,325.34 582.52,326.18 547.78,333.75" fill="#d62728" stroke="#d62728" stroke-width="0.35"/>
<polygon points="547.78,333.75 582.52,326.18 582.52,326.17 547.78,335.00" fill="#e377c2" stroke="#e377c2" stroke-width="0.35"/>
<polygon points="547.78,335.00 582.52,326.17 582.52,327.43 547.78,335.00" fill="#9467bd" stroke="#9467bd" stroke-width="0.35"/>
<polygon points="547.78,335.00 582.52,327.43 582.52,330.53 547.78,338.50" fill="#2ca02c" stroke="#2ca02c" stroke-width="0.35"/>
<polygon points="582.22,315.80 616.97,309.55 616.97,310.15 582.22,315.80" fill="#7f7f7f" stroke="#7f7f7f" stroke-width="0.35"/>
<polygon points="582.22,315.80 616.97,310.15 616.97,310.75 582.22,316.40" fill="#2ca02c" stroke="#2ca02c" stroke-width="0.35"/>
<polygon points="582.22,316.40 616.97,310.75 616.97,311.25 582.22,317.00" fill="#17becf" stroke="#17becf" stroke-width="0.35"/>
<polygon points="582.22,317.00 616.97,311.25 616.97,311.25 582.22,317.50" fill="#7f7f7f" stroke="#7f7f7f" stroke-width="0.35"/>
<polygon points="582.22,317.50 616.97,311.25 616.97,311.95 582.22,318.30" fill="#8c564b" stroke="#8c564b" stroke-width="0.35"/>
<polygon points="582.22,318.30 616.97,311.95 616.97,311.94 582.22,319.20" fill="#d62728" stroke="#d62728" stroke-width="0.35"/>
<polygon points="582.22,319.20 616.97,311.94 616.97,312.64 582.22,320.00" fill="#bcbd22" stroke="#bcbd22" stroke-width="0.35"/>
<polygon points="582.22,320.00 616.97,312.64 616.97,313.34 582.22,320.00" fill="#17becf" stroke="#17becf" stroke-width="0.35"/>
<polygon points="582.22,320.00 616.97,313.34 616.97,314.54 582.22,321.25" fill="#e377c2" stroke="#e377c2" stroke-width="0.35"/>
<polygon points="582.22,321.25 616.97,314.54 616.97,315.74 582.22,322.50" fill="#9467bd" stroke="#9467bd" stroke-width="0.35"/>
<polygon points="582.22,322.50 616.97,315.74 616.97,315.74 582.22,322.90" fill="#bcbd22" stroke="#bcbd22" stroke-width="0.35"/>
<polygon points="582.22,322.90 616.97,315.74 616.97,316.44 582.22,322.90" fill="#17becf" stroke="#17becf" stroke-width="0.35"/>
<polygon points="582.22,322.90 616.97,316.44 616.97,317.03 582.22,324.60" fill="#1f77b4" stroke="#1f77b4" stroke-width="0.35"/>
<polygon points="582.22,324.60 616.97,317.03 616.97,317.94 582.22,325.40" fill="#ff7f0e" stroke="#ff7f0e" stroke-width="0.35"/>
<polygon points="582.22,325.40 616.97,317.94 616.97,319.14 582.22,326.25" fill="#d62728" stroke="#d62728" stroke-width="0.35"/>
<polygon points="582.22,326.25 616.97,319.14 616.97,319.93 582.22,327.50" fill="#9467bd" stroke="#9467bd" stroke-width="0.35"/>
<polygon points="582.22,327.50 616.97,319.93 616.97,323.03 582.22,330.60" fill="#2ca02c" stroke="#2ca02c" stroke-width="0.35"/>
<polygon points="616.67,309.60 651.41,304.56 651.41,305.16 616.67,310.20" fill="#7f7f7f" stroke="#7f7f7f" stroke-width="0.35"/>
<polygon points="616.67,310.20 651.41,305.16 651.41,305.76 616.67,310.80" fill="#2ca02c" stroke="#2ca02c" stroke-width="0.35"/>
<polygon points="616.67,310.80 651.41,305.76 651.41,306.36 616.67,311.30" fill="#17becf" stroke="#17becf" stroke-width="0.35"/>
<polygon points="616.67,311.30 651.41,306.36 651.41,306.96 616.67,312.00" fill="#8c564b" stroke="#8c564b" stroke-width="0.35"/>
<polygon points="616.67,312.00 651.41,306.96 651.41,307.56 616.67,312.70" fill="#bcbd22" stroke="#bcbd22" stroke-width="0.35"/>
<polygon points="616.67,312.70 651.41,307.56 651.41,307.55 616.67,313.40" fill="#17becf" stroke="#17becf" stroke-width="0.35"/>
<polygon points="616.67,313.40 651.41,307.55 651.41,308.55 616.67,314.60" fill="#e377c2" stroke="#e377c2" stroke-width="0.35"/>
<polygon points="616.67,314.60 651.41,308.55 651.41,309.55 616.67,315.80" fill="#9467bd" stroke="#9467bd" stroke-width="0.35"/>
<polygon points="616.67,315.80 651.41,309.55 651.41,310.35 616.67,316.50" fill="#17becf" stroke="#17becf" stroke-width="0.35"/>
<polygon points="616.67,316.50 651.41,310.35 651.41,310.95 616.67,317.10" fill="#1f77b4" stroke="#1f77b4" stroke-width="0.35"/>
<polygon points="616.67,317.10 651.41,310.95 651.41,311.54 616.67,318.00" fill="#ff7f0e" stroke="#ff7f0e" stroke-width="0.35"/>
<polygon points="616.67,318.00 651.41,311.54 651.41,311.94 616.67,319.20" fill="#d62728" stroke="#d62728" stroke-width="0.35"/>
<polygon points="616.67,319.20 651.41,311.94 651.41,312.43 616.67,320.00" fill="#9467bd" stroke="#9467bd" stroke-width="0.35"/>
<polygon points="616.67,320.00 651.41,312.43 651.41,315.53 616.67,323.10" fill="#2ca02c" stroke="#2ca02c" stroke-width="0.35"/>
<polygon points="651.11,304.60 685.86,301.17 685.86,301.17 651.11,305.20" fill="#7f7f7f" stroke="#7f7f7f" stroke-width="0.35"/>
<polygon points="651.11,305.20 685.86,301.17 685.86,301.16 651.11,305.80" fill="#2ca02c" stroke="#2ca02c" stroke-width="0.35"/>
<polygon points="651.11,305.80 685.86,301.16 685.86,301.15 651.11,306.40" fill="#17becf" stroke="#17becf" stroke-width="0.35"/>
<polygon points="651.11,306.40 685.86,301.15 685.86,301.76 651.11,306.40" fill="#d62728" stroke="#d62728" stroke-width="0.35"/>
<polygon points="651.11,306.40 685.86,301.76 685.86,302.36 651.11,307.00" fill="#8c564b" stroke="#8c564b" stroke-width="0.35"/>
<polygon points="651.11,307.00 685.86,302.36 685.86,302.35 651.11,307.60" fill="#bcbd22" stroke="#bcbd22" stroke-width="0.35"/>
<polygon points="651.11,307.60 685.86,302.35 685.86,302.95 651.11,308.60" fill="#e377c2" stroke="#e377c2" stroke-width="0.35"/>
<polygon points="651.11,308.60 685.86,302.95 685.86,302.94 651.11,309.60" fill="#9467bd" stroke="#9467bd" stroke-width="0.35"/>
<polygon points="651.11,309.60 685.86,302.94 685.86,303.55 651.11,309.60" fill="#7f7f7f" stroke="#7f7f7f" stroke-width="0.35"/>
<polygon points="651.11,309.60 685.86,303.55 685.86,304.15 651.11,310.40" fill="#17becf" stroke="#17becf" stroke-width="0.35"/>
<polygon points="651.11,310.40 685.86,304.15 685.86,304.75 651.11,311.00" fill="#1f77b4" stroke="#1f77b4" stroke-width="0.35"/>
<polygon points="651.11,311.00 685.86,304.75 685.86,305.35 651.11,311.60" fill="#ff7f0e" stroke="#ff7f0e" stroke-width="0.35"/>
<polygon points="651.11,311.60 685.86,305.35 685.86,305.75 651.11,312.00" fill="#d62728" stroke="#d62728" stroke-width="0.35"/>
<polygon points="651.11,312.00 685.86,305.75 685.86,305.74 651.11,312.50" fill="#9467bd" stroke="#9467bd" stroke-width="0.35"/>
<polygon points="651.11,312.50 685.86,305.74 685.86,308.03 651.11,315.60" fill="#2ca02c" stroke="#2ca02c" stroke-width="0.35"/>
<polygon points="685.56,301.20 720.00,301.96 720.00,301.96 685.56,301.80" fill="#d62728" stroke="#d62728" stroke-width="0.35"/>
<polygon points="685.56,301.80 720.00,301.96 720.00,301.96 685.56,302.40" fill="#8c564b" stroke="#8c564b" stroke-width="0.35"/>
<polygon points="685.56,302.40 720.00,301.96 720.00,301.96 685.56,303.00" fill="#e377c2" stroke="#e377c2" stroke-width="0.35"/>
<polygon points="685.56,303.00 720.00,301.96 720.00,301.96 685.56,303.60" fill="#7f7f7f" stroke="#7f7f7f" stroke-width="0.35"/>
<polygon points="685.56,303.60 720.00,301.96 720.00,301.96 685.56,304.20" fill="#17becf" stroke="#17becf" stroke-width="0.35"/>
<polygon points="685.56,304.20 720.00,301.96 720.00,301.96 685.56,304.80" fill="#1f77b4" stroke="#1f77b4" stroke-width="0.35"/>
<polygon points="685.56,304.80 720.00,301.96 720.00,301.96 685.56,305.40" fill="#ff7f0e" stroke="#ff7f0e" stroke-width="0.35"/>
<polygon points="685.56,305.40 720.00,301.96 720.00,301.96 685.56,305.80" fill="#d62728" stroke="#d62728" stroke-width="0.35"/>
<polygon points="685.56,305.80 720.00,301.96 720.00,301.96 685.56,308.10" fill="#2ca02c" stroke="#2ca02c" stroke-width="0.35"/>
<polygon points="685.56,308.10 720.00,301.96 720.00,304.04 685.56,308.10" fill="#2ca02c" stroke="#2ca02c" stroke-width="0.35"/>
</g>
<g fill="#000" shape-rendering="crispEdges">
<rect x="100" y="72" width="1" height="463"/>
<rect x="720" y="72" width="1" height="463"/>
<rect x="100" y="72" width="621" height="1"/>
<rect x="100" y="534" width="621" height="1"/>
<rect x="100" y="535" width="1" height="5.0"/>
<rect x="169" y="535" width="1" height="5.0"/>
<rect x="238" y="535" width="1" height="5.0"/>
<rect x="307" y="535" width="1" height="5.0"/>
<rect x="376" y="535" width="1" height="5.0"/>
<rect x="444" y="535" width="1" height="5.0"/>
<rect x="513" y="535" width="1" height="5.0"/>
<rect x="582" y="535" width="1" height="5.0"/>
<rect x="651" y="535" width="1" height="5.0"/>
<rect x="720" y="535" width="1" height="5.0"/>
<rect x="95.0" y="72" width="5.0" height="1"/>
<rect x="95.0" y="130" width="5.0" height="1"/>
<rect x="95.0" y="188" width="5.0" height="1"/>
<rect x="95.0" y="245" width="5.0" height="1"/>
<rect x="95.0" y="303" width="5.0" height="1"/>
<rect x="95.0" y="361" width="5.0" height="1"/>
<rect x="95.0" y="419" width="5.0" height="1"/>
<rect x="95.0" y="476" width="5.0" height="1"/>
<rect x="95.0" y="534" width="5.0" height="1"/>
</g>
<text x="100.30" y="555.30" font-size="14.00" text-anchor="middle" textLength="7.70" lengthAdjust="spacingAndGlyphs">0</text>
<text x="169.19" y="555.30" font-size="14.00" text-anchor="middle" textLength="17.20" lengthAdjust="spacingAndGlyphs">10</text>
<text x="238.08" y="555.30" font-size="14.00" text-anchor="middle" textLength="17.20" lengthAdjust="spacingAndGlyphs">20</text>
<text x="306.97" y="555.30" font-size="14.00" text-anchor="middle" textLength="17.20" lengthAdjust="spacingAndGlyphs">30</text>
<text x="375.86" y="555.30" font-size="14.00" text-anchor="middle" textLength="17.20" lengthAdjust="spacingAndGlyphs">40</text>
<text x="444.74" y="555.30" font-size="14.00" text-anchor="middle" textLength="17.20" lengthAdjust="spacingAndGlyphs">50</text>
<text x="513.63" y="555.30" font-size="14.00" text-anchor="middle" textLength="17.20" lengthAdjust="spacingAndGlyphs">60</text>
<text x="582.52" y="555.30" font-size="14.00" text-anchor="middle" textLength="17.20" lengthAdjust="spacingAndGlyphs">70</text>
<text x="651.41" y="555.30" font-size="14.00" text-anchor="middle" textLength="17.20" lengthAdjust="spacingAndGlyphs">80</text>
<text x="720.30" y="555.30" font-size="14.00" text-anchor="middle" textLength="17.20" lengthAdjust="spacingAndGlyphs">90</text>
<text x="89.30" y="78.00" font-size="14.00" text-anchor="end" textLength="28.30" lengthAdjust="spacingAndGlyphs">10.0</text>
<text x="89.30" y="134.80" font-size="14.00" text-anchor="end" textLength="19.30" lengthAdjust="spacingAndGlyphs">7.5</text>
<text x="89.30" y="192.90" font-size="14.00" text-anchor="end" textLength="19.80" lengthAdjust="spacingAndGlyphs">5.0</text>
<text x="89.30" y="250.45" font-size="14.00" text-anchor="end" textLength="19.30" lengthAdjust="spacingAndGlyphs">2.5</text>
<text x="89.30" y="308.20" font-size="14.00" text-anchor="end" textLength="19.80" lengthAdjust="spacingAndGlyphs">0.0</text>
<text x="89.30" y="365.95" font-size="14.00" text-anchor="end" textLength="32.80" lengthAdjust="spacingAndGlyphs">−2.5</text>
<text x="89.30" y="423.70" font-size="14.00" text-anchor="end" textLength="32.80" lengthAdjust="spacingAndGlyphs">−5.0</text>
<text x="89.30" y="481.45" font-size="14.00" text-anchor="end" textLength="32.80" lengthAdjust="spacingAndGlyphs">−7.5</text>
<text x="89.30" y="539.20" font-size="14.00" text-anchor="end" textLength="41.70" lengthAdjust="spacingAndGlyphs">−10.0</text>
<text x="410.40" y="573.80" font-size="14.00" text-anchor="middle" textLength="171.60" lengthAdjust="spacingAndGlyphs">Elvation angle (degrees)</text>
<g transform="translate(39.2,303.9) rotate(-90)"><text x="0.00" y="0.00" font-size="14.00" text-anchor="middle" textLength="71.00" lengthAdjust="spacingAndGlyphs">Bias (mm)</text></g>
<text x="410.40" y="63.80" font-size="16.90" text-anchor="middle" textLength="303.20" lengthAdjust="spacingAndGlyphs">Antenna Phase Biases: GALILEO-E5a</text>
<text x="400.00" y="24.30" font-size="16.90" text-anchor="middle" textLength="191.60" lengthAdjust="spacingAndGlyphs" xml:space="preserve">JAVRINGANT_G5T  JAVC</text>
</svg></body></html>
